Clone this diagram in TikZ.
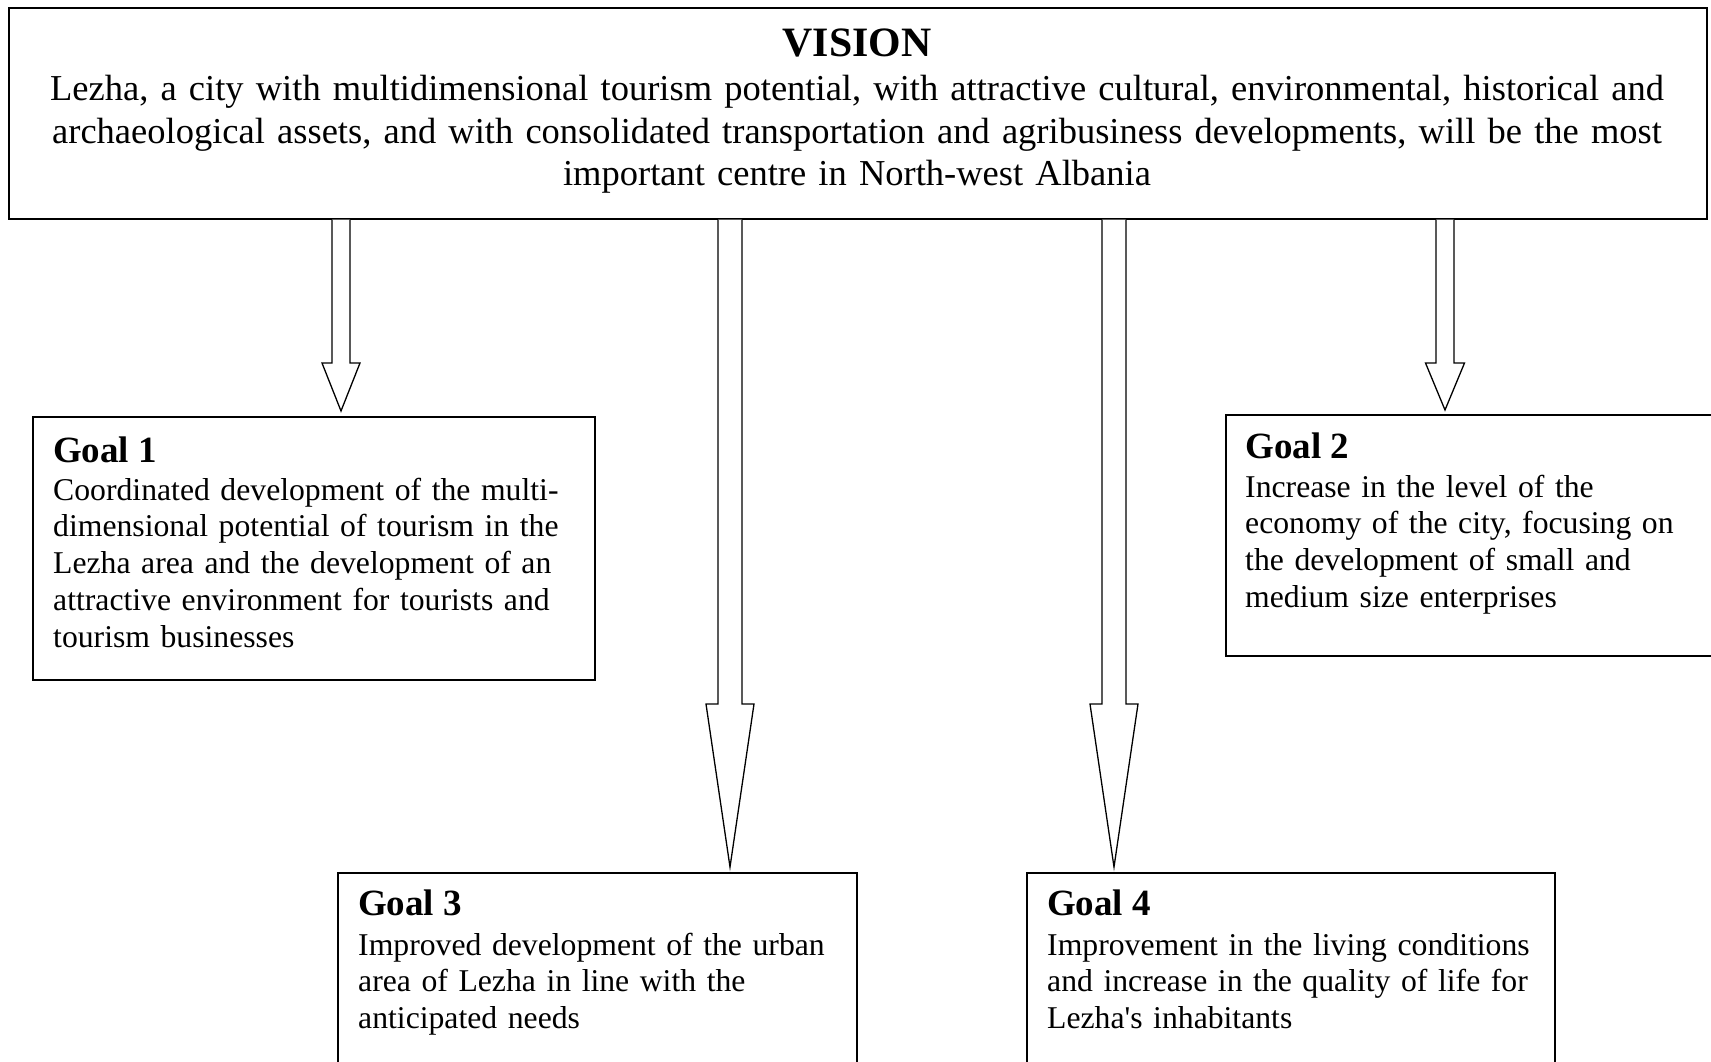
\documentclass[tikz,border=0pt]{standalone}
\usepackage{fontspec}
\setmainfont{Liberation Serif}[Ligatures=TeXOff]
\usetikzlibrary{calc}
\tikzset{
  box/.style={draw, line width=1.6pt, fill=white, rectangle, inner sep=0pt, anchor=north west},
  gtitle/.style={anchor=base west, inner sep=0pt, font=\fontsize{37}{42}\selectfont\bfseries},
  gbody/.style={anchor=base west, inner sep=0pt, text width=600pt, align=left, font=\fontsize{31.7}{36.8}\selectfont},
  vtitle/.style={anchor=base, inner sep=0pt, font=\fontsize{41.8}{46}\selectfont\bfseries},
  vbody/.style={anchor=base, inner sep=0pt, text width=1690pt, align=center, font=\fontsize{36.5}{42.5}\selectfont},
  barrow/.style={draw, line width=1.3pt, fill=white, line join=miter},
}
\newcommand{\blkarrow}[5]{%
  \draw[barrow] ($(#1)+(-#3,0)$) -- ($(#2)+(-#3,-#5)$) -- ($(#2)+(-#4,-#5)$) -- (#2)
    -- ($(#2)+(#4,-#5)$) -- ($(#2)+(#3,-#5)$) -- ($(#1)+(#3,0)$);}
\begin{document}
\begin{tikzpicture}[x=1pt,y=-1pt]
\useasboundingbox (0,0) rectangle (1711,1062);
\fill[white] (0,0) rectangle (1711,1062);
\clip (0,0) rectangle (1711,1062);
% boxes
\node[box, minimum width=1698pt, minimum height=211pt] (vision) at (8,7) {};
\node[box, minimum width=562pt, minimum height=263pt] (g1) at (32,416) {};
\node[box, minimum width=520pt, minimum height=241pt] (g2) at (1225,414) {};
\node[box, minimum width=519pt, minimum height=220pt] (g3) at (337,872) {};
\node[box, minimum width=528pt, minimum height=220pt] (g4) at (1026,872) {};
% vision text
\node[vtitle] (vt) at (857,57) {VISION};
\node[vbody] (vb) at (857,101) {Lezha, a city with multidimensional tourism potential, with attractive cultural, environmental, historical and\\
archaeological assets, and with consolidated transportation and agribusiness developments, will be the most\\
important centre in North-west Albania};
% goals
\node[gtitle] (g1t) at (53,462) {Goal 1};
\node[gbody] (g1b) at (53,500) {Coordinated development of the multi-\\dimensional potential of tourism in the\\Lezha area and the development of an\\attractive environment for tourists and\\tourism businesses};
\node[gtitle] (g2t) at (1245,458) {Goal 2};
\node[gbody] (g2b) at (1245,497) {Increase in the level of the\\economy of the city, focusing on\\the development of small and\\medium size enterprises};
\node[gtitle] (g3t) at (358,915) {Goal 3};
\node[gbody] (g3b) at (358,955) {Improved development of the urban\\area of Lezha in line with the\\anticipated needs};
\node[gtitle] (g4t) at (1047,915) {Goal 4};
\node[gbody] (g4b) at (1047,955) {Improvement in the living conditions\\and increase in the quality of life for\\Lezha's inhabitants};
% arrow anchors
\coordinate (a1s) at ($(vision.south west)+(333,0)$);
\coordinate (a1t) at ($(g1.north west)+(309,-5)$);
\coordinate (a2s) at ($(vision.south west)+(1437,0)$);
\coordinate (a2t) at ($(g2.north west)+(220,-4)$);
\coordinate (a3s) at ($(vision.south west)+(722,0)$);
\coordinate (a3t) at ($(g3.north west)+(393,-5)$);
\coordinate (a4s) at ($(vision.south west)+(1106,0)$);
\coordinate (a4t) at ($(g4.north west)+(88,-5)$);
\blkarrow{a1s}{a1t}{9}{19}{48}
\blkarrow{a2s}{a2t}{9}{19.5}{47}
\blkarrow{a3s}{a3t}{12}{24}{163}
\blkarrow{a4s}{a4t}{12}{24}{163}
\end{tikzpicture}
\end{document}
